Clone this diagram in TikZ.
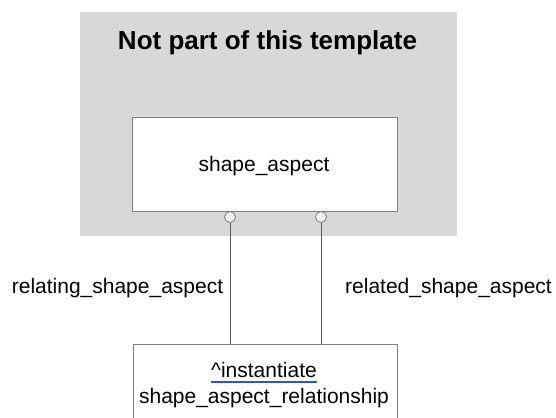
\documentclass[tikz,border=0pt]{standalone}
\usepackage{fontspec}
\setmainfont{Liberation Sans}
\usetikzlibrary{positioning}

\definecolor{regiongray}{HTML}{D8D8D8}
\definecolor{edgegray}{HTML}{7F7F7F}
\definecolor{linkblue}{HTML}{3A4FC0}

\tikzset{
    entity/.style={draw=edgegray, fill=white, line width=0.8pt, inner sep=0pt},
    port/.style={circle, draw=edgegray, fill=regiongray!40, line width=0.8pt, minimum size=11pt, inner sep=0pt},
    label/.style={font=\fontsize{21}{25}\selectfont, inner sep=0pt, anchor=base}
}

\begin{document}
\begin{tikzpicture}[x=1pt, y=-1pt]
    \useasboundingbox (0,0) rectangle (556,417);
    \clip (0,0) rectangle (556,417);

    \coordinate (RegTL) at (80,12);
    \coordinate (RegBR) at (457,236);

    \fill[regiongray] (RegTL) rectangle (RegBR);
    \node[font=\fontsize{26}{30}\selectfont\bfseries, inner sep=0pt, anchor=base] (title) at (267.5,50) {Not part of this template};

    \node[entity, minimum width=265pt, minimum height=94pt] (sa) at (264.5,164.5) {};
    \node[label] (saname) at (264,171) {shape\_aspect};

    \node[port] (pa) at (230,217) {};
    \node[port] (pb) at (321,217) {};

    \node[entity, anchor=north, minimum width=264pt, minimum height=100pt] (sar) at (265,344) {};
    \node[label] (inst) at (264,377) {\textasciicircum instantiate};
    \node[label] (sarname) at (264,403) {shape\_aspect\_relationship};
    \draw[linkblue, line width=2pt] ([yshift=-5pt]inst.base west) -- ([yshift=-5pt]inst.base east);

    \draw[edgegray!70!black, line width=0.8pt] (pa) -- (pa |- sar.north);
    \draw[edgegray!70!black, line width=0.8pt] (pb) -- (pb |- sar.north);

    \node[label] (relating) at (117.5,293) {relating\_shape\_aspect};
    \node[label] (related) at (448.5,293) {related\_shape\_aspect};
\end{tikzpicture}
\end{document}
